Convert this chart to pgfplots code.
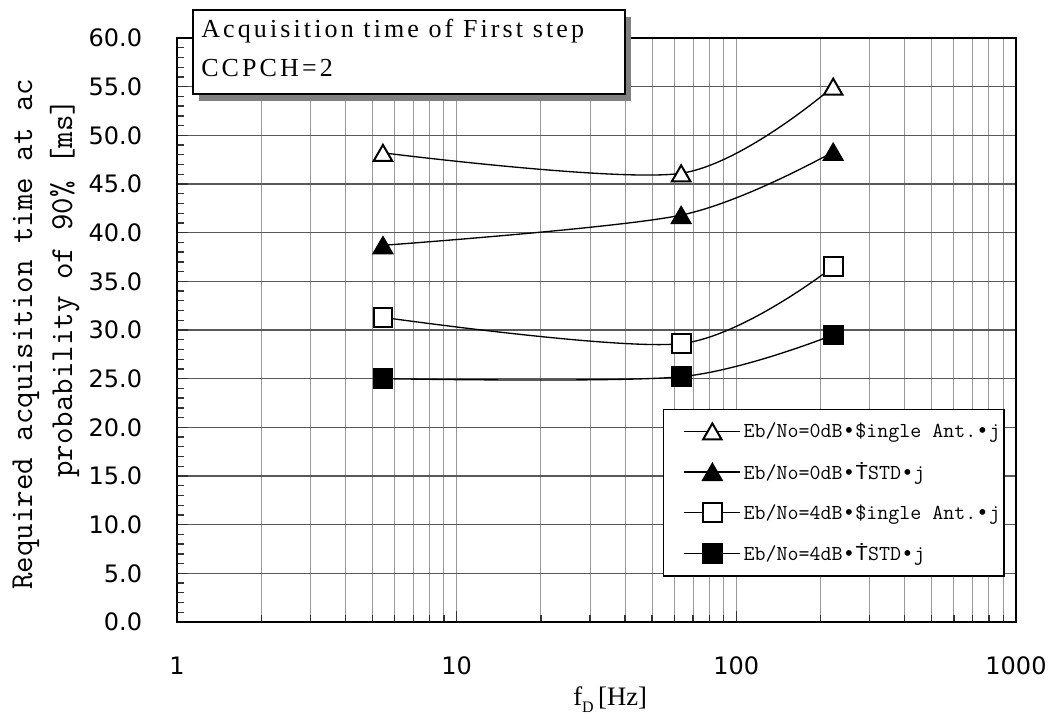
\documentclass[border=0pt]{standalone}
\usepackage{fontspec}
\usepackage{pgfplots}
\pgfplotsset{compat=1.18}
\setmainfont{DejaVu Sans}
\newfontfamily\monof{Liberation Mono}
\newfontfamily\titlef[LetterSpace=12]{Liberation Serif}
\newfontfamily\seriff{Liberation Serif}
\newcommand{\bul}{{\monof •}}
\newcommand{\tdot}{{\monof Ṫ}}

\begin{document}
\begin{tikzpicture}
\useasboundingbox (0,0) rectangle (789.75pt,540pt);
\begin{axis}[
  at={(132.75pt,73.5pt)}, anchor=south west,
  scale only axis, width=629.25pt, height=438pt,
  xmode=log, xmin=1, xmax=1000, ymin=0, ymax=60,
  xtick={1,10,100,1000}, xticklabels={1,10,100,1000},
  ytick={0,5,...,60},
  yticklabels={0.0,5.0,10.0,15.0,20.0,25.0,30.0,35.0,40.0,45.0,50.0,55.0,60.0},
  minor y tick num=4,
  tick align=inside, xtick pos=bottom, ytick pos=left,
  major tick length=8pt, minor tick length=5.5pt,
  every tick/.style={black!80, line width=1pt},
  xmajorgrids, xminorgrids, ymajorgrids,
  major x grid style={black!40, line width=0.75pt},
  minor x grid style={black!40, line width=0.75pt},
  major y grid style={black!65, line width=1pt},
  axis line style={black, line width=1.3pt},
  xticklabel style={font=\fontsize{18}{18}\selectfont, anchor=north, inner sep=0pt, yshift=-26pt},
  yticklabel style={font=\fontsize{18}{18}\selectfont, anchor=east, inner sep=0pt, xshift=-26pt},
  every axis plot/.append style={black, line width=1pt, smooth},
  legend style={at={(0.5793,0.3647)}, anchor=north west, draw=black, line width=1pt,
    fill=white, font=\ttfamily\fontsize{16}{16}\selectfont, inner xsep=1pt, inner ysep=8pt,
    row sep=13pt, cells={anchor=west},
    /tikz/every even column/.append style={column sep=5pt}},
  legend image code/.code={\path (0pt,0pt);
    \draw[mark repeat=2,mark phase=2] plot coordinates {(14pt,0pt)(35pt,0pt)(56pt,0pt)};},
]
\addplot[mark=triangle*, mark size=8pt, mark options={fill=white, line width=1.5pt, yshift=-2pt}]
  coordinates {(5.45,48.2) (63.5,46.1) (222,55.0)};
\addlegendentry{Eb/No=0dB\bul\$ingle Ant.\bul j}
\addplot[mark=triangle*, mark size=8pt, mark options={fill=black, line width=1.5pt, yshift=-2pt}]
  coordinates {(5.45,38.7) (63.5,41.8) (222,48.3)};
\addlegendentry{Eb/No=0dB\bul\tdot STD\bul j}
\addplot[mark=square*, mark size=7pt, mark options={fill=white, line width=1.5pt}]
  coordinates {(5.45,31.3) (63.5,28.6) (222,36.5)};
\addlegendentry{Eb/No=4dB\bul\$ingle Ant.\bul j}
\addplot[mark=square*, mark size=7pt, mark options={fill=black, line width=1.5pt}]
  coordinates {(5.45,25.0) (63.5,25.2) (222,29.5)};
\addlegendentry{Eb/No=4dB\bul\tdot STD\bul j}
\end{axis}
% title box with shadow
\fill[black!50] (149.25pt,464.25pt) rectangle (473.25pt,527.25pt);
\draw[line width=1.5pt, fill=white] (144.75pt,469.5pt) rectangle (468.75pt,532.5pt);
\node[anchor=base west, inner sep=0pt, font=\titlef\fontsize{19.5}{19.5}\selectfont]
  at (150.75pt,511.5pt) {Acquisition time of First step};
\node[anchor=base west, inner sep=0pt, font=\titlef\fontsize{19.5}{19.5}\selectfont]
  at (150.75pt,482.25pt) {CCPCH=2};
% y label
\node[rotate=90, anchor=base west, inner sep=0pt, font=\ttfamily\fontsize{24}{24}\selectfont]
  at (24pt,97.5pt) {Required acquisition time at ac};
\node[rotate=90, anchor=base west, inner sep=0pt, font=\ttfamily\fontsize{24}{24}\selectfont]
  at (54pt,181.5pt) {probability of 90\% [ms]};
% x label
\node[anchor=base west, inner sep=0pt, font=\seriff\fontsize{20}{20}\selectfont]
  at (429.75pt,10.5pt) {f\raisebox{-5pt}{\fontsize{12}{12}\selectfont D}\,[Hz]};
\end{tikzpicture}
\end{document}
